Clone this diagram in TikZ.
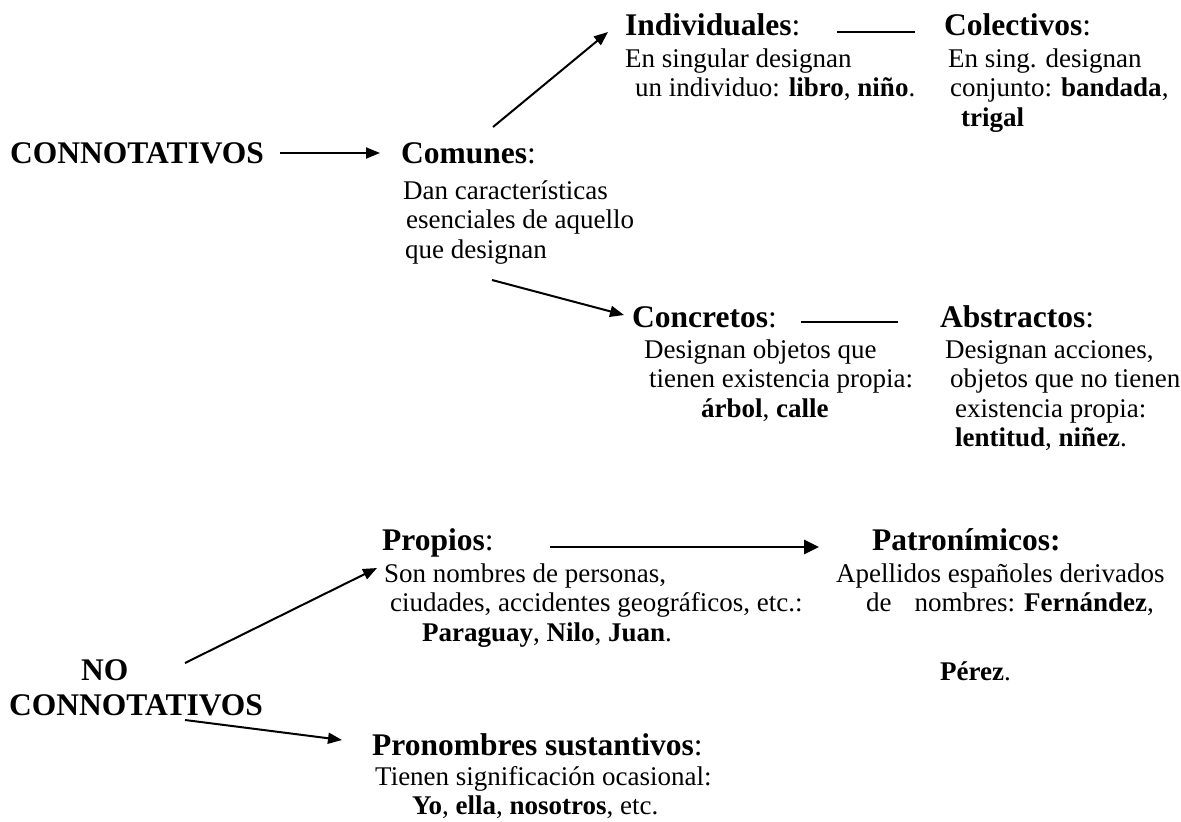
\documentclass[tikz,border=0pt]{standalone}
\usepackage{fontspec}
\setmainfont{Liberation Serif}
\usetikzlibrary{arrows.meta}
\newcommand{\blk}[1]{\begin{tabular}[t]{@{}l@{}}#1\end{tabular}}
\begin{document}
\begin{tikzpicture}[x=1pt,y=-1pt,
  head/.style={font=\fontsize{31.5}{35}\selectfont, inner sep=0pt, anchor=base west},
  body/.style={font=\fontsize{27}{29.5}\selectfont, inner sep=0pt, anchor=base west},
  arr/.style={line width=2pt, -{Triangle[length=14pt,width=11pt]}},
  bigarr/.style={line width=2.7pt, -{Triangle[length=15pt,width=14pt]}},
  link/.style={line width=2.6pt}]
\useasboundingbox (0,0) rectangle (1181,822);

% upper tree
\node[head] (conn) at (10,163) {\textbf{CONNOTATIVOS}};
\node[head] (com) at (401,163) {\textbf{Comunes}:};
\node[body] (comB) at (403,199) {\blk{Dan características\\
  \hspace*{3pt}esenciales de aquello\\
  \hspace*{2pt}que designan}};

\node[head] (ind) at (625,35) {\textbf{Individuales}:};
\node[body] (indB) at (625,67) {\blk{En singular designan\\
  \hspace*{10pt}un individuo: \textbf{libro}, \textbf{niño}.}};
\node[head] (col) at (944,35) {\textbf{Colectivos}:};
\node[body] (colB) at (948,67) {\blk{En sing. designan\\
  \hspace*{2pt}conjunto: \textbf{bandada},\\
  \hspace*{13pt}\textbf{trigal}}};

\node[head] (conc) at (632,327) {\textbf{Concretos}:};
\node[body] (concB) at (644,358) {\blk{Designan objetos que\\
  \hspace*{5pt}tienen existencia propia:\\
  \hspace*{57pt}\textbf{árbol}, \textbf{calle}}};
\node[head] (abs) at (940,327) {\textbf{Abstractos}:};
\node[body] (absB) at (945,358) {\blk{Designan acciones,\\
  \hspace*{5pt}objetos que no tienen\\
  \hspace*{10pt}existencia propia:\\
  \hspace*{10pt}\textbf{lentitud}, \textbf{niñez}.}};

\coordinate (a1s) at (280,153); \coordinate (a1e) at (380,153);
\coordinate (a2s) at (493,127); \coordinate (a2e) at (608,32);
\coordinate (a3s) at (492,280); \coordinate (a3e) at (624,315);
\coordinate (l1s) at (837,32);  \coordinate (l1e) at (915,32);
\coordinate (l2s) at (801,322); \coordinate (l2e) at (898,322);
\draw[arr] (a1s) -- (a1e);
\draw[arr] (a2s) -- (a2e);
\draw[arr] (a3s) -- (a3e);
\draw[link] (l1s) -- (l1e);
\draw[link] (l2s) -- (l2e);

% lower tree
\node[head] (noc) at (9,680) {\blk{\hspace*{72pt}\textbf{NO}\\ \textbf{CONNOTATIVOS}}};

\node[head] (prop) at (382,550) {\textbf{Propios}:};
\node[body] (propB) at (384,582) {\blk{Son nombres de personas,\\
  \hspace*{6pt}ciudades, accidentes geográficos, etc.:\\
  \hspace*{38pt}\textbf{Paraguay}, \textbf{Nilo}, \textbf{Juan}.}};

\node[head] (pat) at (872,550) {\textbf{Patronímicos:}};
\node[body] (patB) at (836,582) {\blk{Apellidos españoles derivados\\
  \hspace*{30pt}de\hspace*{23pt}nombres: \textbf{Fernández},}};
\node[body] (patC) at (940,680) {\textbf{Pérez}.};

\node[head] (pron) at (372,755) {\textbf{Pronombres sustantivos}:};
\node[body] (pronB) at (375,785) {\blk{Tienen significación ocasional:\\
  \hspace*{37pt}\textbf{Yo}, \textbf{ella}, \textbf{nosotros}, etc.}};

\coordinate (a4s) at (550,547); \coordinate (a4e) at (819,547);
\coordinate (a5s) at (185,663); \coordinate (a5e) at (377,568);
\coordinate (a6s) at (185,720); \coordinate (a6e) at (342,740);
\draw[bigarr] (a4s) -- (a4e);
\draw[arr] (a5s) -- (a5e);
\draw[arr] (a6s) -- (a6e);
\end{tikzpicture}
\end{document}
